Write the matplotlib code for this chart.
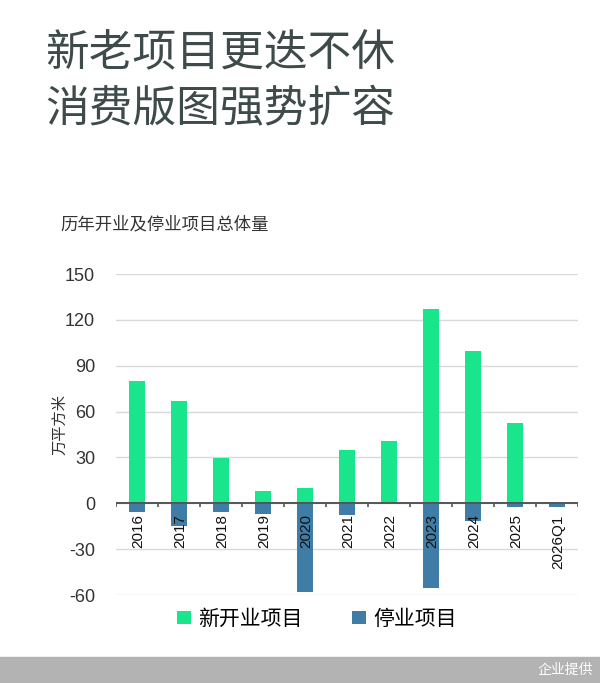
import numpy as np
import matplotlib
matplotlib.use("Agg")
import matplotlib.pyplot as plt

plt.rcParams['font.family'] = ['Noto Sans CJK SC', 'DejaVu Sans']

# data (万平方米)
years = ['2016', '2017', '2018', '2019', '2020', '2021', '2022', '2023', '2024', '2025', '2026Q1']
new_open = [80, 67, 29.5, 8.3, 10.2, 35.2, 41, 127.3, 99.6, 52.8, 0]
closed = [5.9, 14.9, 5.5, 7, 57.9, 7.8, 0, 55.3, 11.6, 2.7, 2.7]

green = '#19E68C'
blue = '#3F7CA6'
num_font = ['Liberation Sans', 'Noto Sans CJK SC']

fig = plt.figure(figsize=(6, 6.83), dpi=100)
fig.patch.set_facecolor('white')

# titles
fig.text(0.075, 0.955, '新老项目更迭不休\n消费版图强势扩容', fontsize=31.5, color='#3F4B4B',
         va='top', ha='left', linespacing=1.25)
fig.text(0.1, 0.672, '历年开业及停业项目总体量', fontsize=12.5, color='#333333',
         va='center', ha='left')

ax = fig.add_axes([0.1933, 0.1288, 0.77, 0.47])
x = np.arange(len(years))
ax.bar(x, new_open, width=0.36, color=green, label='新开业项目', zorder=3)
ax.bar(x, -np.array(closed), width=0.36, color=blue, label='停业项目', zorder=3)

ax.set_xlim(-0.5, len(years) - 0.5)
ax.set_ylim(-60, 150)
yt = np.arange(-60, 151, 30)
ax.set_yticks(yt)
ax.set_yticklabels([str(v) for v in yt], family=num_font, fontsize=13, color='#333333')
ax.tick_params(axis='y', length=0, pad=15)
ax.set_xticks([])
ax.grid(axis='y', color='#D9D9D9', linewidth=1, zorder=0)
for s in ax.spines.values():
    s.set_visible(False)

# zero line with boundary ticks
ax.axhline(0, color='#555555', linewidth=1.4, zorder=4)
ax.vlines(np.arange(len(years) + 1) - 0.5, -2.6, 0, color='#555555', linewidth=1.2, zorder=4)

for i, lab in enumerate(years):
    ax.annotate(lab, xy=(i, 0), xytext=(1, -8), textcoords='offset points',
                rotation=90, ha='center', va='top', fontsize=11, color='#111111',
                family=num_font, zorder=5)

ax.set_ylabel('万平方米', fontsize=11, color='#333333')
ax.yaxis.set_label_coords(-0.103, 0.53)

ax.legend(loc='center', bbox_to_anchor=(0.435, -0.074), ncol=2, frameon=False,
          fontsize=15, handlelength=0.65, handleheight=0.65, handletextpad=0.35,
          columnspacing=2.4)

# bottom source band
fig.patches.append(plt.Rectangle((0, 0), 1, 26 / 683, transform=fig.transFigure,
                                 color='#B3B3B3', zorder=0))
fig.text(0.988, 13 / 683, '企业提供', fontsize=10, color='white', ha='right', va='center')

fig.savefig('out.png', dpi=100)
